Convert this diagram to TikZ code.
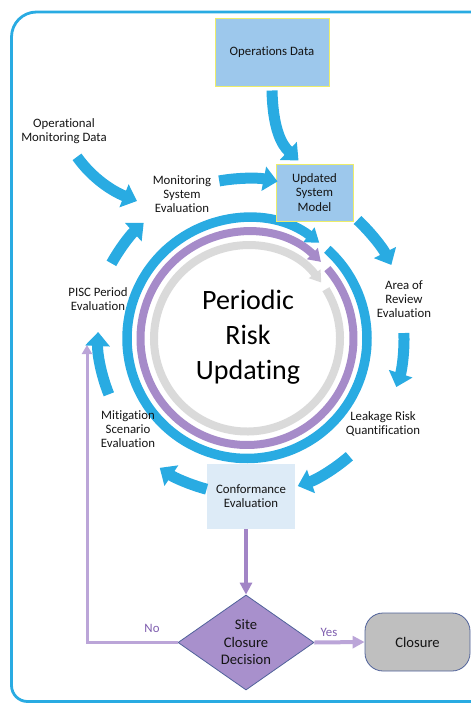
\documentclass[tikz,border=0pt]{standalone}
\usepackage{fontspec}
\setmainfont{Carlito}[Ligatures=NoCommon]
\usetikzlibrary{arrows.meta,shapes.geometric}
\definecolor{ringblue}{HTML}{29ABE2}
\definecolor{ringpurple}{HTML}{A68BC9}
\definecolor{ringgray}{HTML}{DADADA}
\definecolor{boxblue}{HTML}{9DC8EC}
\definecolor{boxedge}{HTML}{EDED6A}
\definecolor{confblue}{HTML}{DDEBF7}
\definecolor{decpurple}{HTML}{A890CC}
\definecolor{decedge}{HTML}{50629A}
\definecolor{closegray}{HTML}{BFBFBF}
\definecolor{linkpurple}{HTML}{A285C6}
\definecolor{linklight}{HTML}{BBA5D8}
\definecolor{labpurple}{HTML}{7E5DAE}
\definecolor{txt}{HTML}{141414}
\begin{document}
\begin{tikzpicture}[x=1pt,y=1pt,
  lab/.style={align=center, font=\fontsize{12.8}{14.2}\selectfont, text=txt, inner sep=0pt},
  biglab/.style={align=center, font=\fontsize{14.6}{17.5}\selectfont, text=txt, inner sep=0pt},
  bigarrow/.style={line width=11pt, ringblue, -{Triangle[width=24pt,length=14pt]}},
  databox/.style={draw=boxedge, line width=1pt, fill=boxblue, align=center, font=\fontsize{12.8}{14.2}\selectfont, text=txt, inner sep=0pt},
  link/.style={line width=4pt, linkpurple, -{Triangle[width=12pt,length=12pt]}},
  linkno/.style={line width=3pt, linklight, -{Triangle[width=10pt,length=9pt]}},
  linkyes/.style={line width=4pt, linklight, -{Triangle[width=12pt,length=12pt]}},
  answer/.style={font=\fontsize{12.8}{14}\selectfont, text=labpurple, inner sep=0pt}]
\useasboundingbox (0,0) rectangle (471,-704);
\clip (0,0) rectangle (471,-704);
% outer frame
\draw[ringblue, line width=2.8pt] (530,-12) -- (36.5,-12) arc[start angle=90,end angle=180,radius=25] -- (11.5,-685.5) arc[start angle=180,end angle=270,radius=16] -- (530,-701.5);
\coordinate (c) at (247,-338.5);
% rings
\draw[line width=9.5pt, ringblue, -{Triangle[width=18pt,length=13pt]}] ([shift={(48:120)}]c) arc[start angle=48,end angle=-307,radius=120];
\draw[line width=8pt, ringpurple, -{Triangle[width=15pt,length=12pt]}] ([shift={(41:106.5)}]c) arc[start angle=41,end angle=-314,radius=106.5];
\draw[line width=8pt, ringgray, -{Triangle[width=14pt,length=11pt]}] ([shift={(32:93)}]c) arc[start angle=32,end angle=-323,radius=93];
\node[align=center, font=\fontsize{28}{35}\selectfont, text=black, inner sep=0pt] (pru) at (248,-337) {Periodic\\Risk\\Updating};
% boxes and labels
\node[databox, minimum width=114pt, minimum height=68pt] (opdata) at (272,-52) {Operations Data};
\node[databox, minimum width=77pt, minimum height=57pt] (usm) at (314.5,-192.5) {Updated\\System\\Model};
\node[lab] (opmon) at (64,-131) {Operational\\Monitoring Data};
\node[lab] (mse) at (182,-194) {Monitoring\\System\\Evaluation};
\node[lab] (aor) at (404,-299) {Area of\\Review\\Evaluation};
\node[lab] (lrq) at (383,-424) {Leakage Risk\\Quantification};
\node[lab, fill=confblue, minimum width=88pt, minimum height=65pt] (conf) at (251,-496.5) {Conformance\\Evaluation};
\node[lab] (mitig) at (128,-429) {Mitigation\\Scenario\\Evaluation};
\node[lab] (pisc) at (98,-299) {PISC Period\\Evaluation};
\node[biglab, diamond, aspect=1.43, draw=decedge, line width=0.8pt, fill=decpurple, minimum width=136pt, minimum height=95pt, inner sep=1pt] (dec) at (246,-642.5) {Site\\Closure\\Decision};
\node[biglab, draw=decedge, line width=0.8pt, fill=closegray, rounded corners=18pt, minimum width=105pt, minimum height=58pt] (clo) at (417.5,-642) {Closure};
% outer cycle arrows
\draw[bigarrow] ([yshift=-4pt]opdata.south) .. controls (273,-130) and (282,-145) .. ([xshift=-16pt,yshift=3pt]usm.north);
\coordinate (omtip) at (137,-201);
\draw[bigarrow] ([shift={(13pt,-13pt)}]opmon.south) .. controls (92,-178) and (112,-191) .. (omtip);
\draw[bigarrow] ([shift={(100:160)}]c) arc[start angle=100,end angle=79,radius=160];
\draw[bigarrow] ([shift={(47:162)}]c) arc[start angle=47,end angle=27,radius=162];
\draw[bigarrow] ([shift={(2:157)}]c) arc[start angle=2,end angle=-18,radius=157];
\draw[bigarrow] ([shift={(311:156)}]c) arc[start angle=311,end angle=289,radius=156];
\draw[bigarrow] ([shift={(255:156)}]c) arc[start angle=255,end angle=236,radius=156];
\draw[bigarrow] ([shift={(202:149)}]c) arc[start angle=202,end angle=177.5,radius=149];
\draw[bigarrow] ([shift={(151:155)}]c) arc[start angle=151,end angle=132,radius=157];
% decision links
\draw[link] (conf.south -| dec.north) -- (dec.north);
\coordinate (noend) at (87,-345);
\draw[linkno] (dec.west) -| (noend);
\draw[linkyes] (dec.east) -- (clo.west);
\node[answer] (yes) at (329,-632) {Yes};
\node[answer] (no) at (152,-628) {No};
\end{tikzpicture}
\end{document}
